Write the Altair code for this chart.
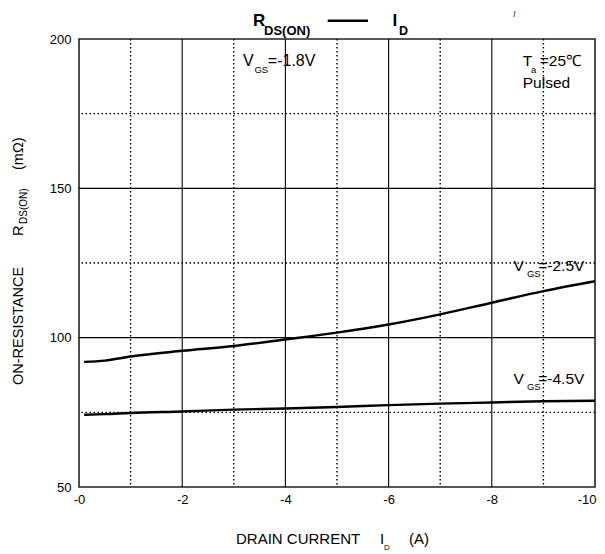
import altair as alt
import pandas as pd

# ---- data ----
current = [-0.1, -0.5, -1, -2, -3, -4, -5, -6, -7, -8, -9, -10]
r_vgs25 = [91.9, 92.3, 93.7, 95.6, 97.2, 99.4, 101.7, 104.4, 107.8, 111.7, 115.6, 118.9]
r_vgs45 = [74.2, 74.4, 74.8, 75.3, 75.9, 76.3, 76.8, 77.4, 77.9, 78.3, 78.7, 78.9]

x_ticks = [0, -2, -4, -6, -8, -10]
x_major = [-2, -4, -6, -8]
x_minor = [-1, -3, -5, -7, -9]
y_ticks = [50, 100, 150, 200]
y_major = [100, 150]
y_minor = [75, 125, 175]

# annotations placed in data coordinates
ann_text = ["V", "=-1.8V", "V", "=-2.5V", "V", "=-4.5V", "T", "=25\u2103", "Pulsed"]
ann_x = [-3.18, -3.66, -8.42, -8.90, -8.42, -8.90, -8.60, -8.93, -8.60]
ann_y = [190.9, 190.9, 122.3, 122.3, 84.4, 84.4, 190.8, 190.8, 183.7]
ann_size = [16, 16, 15.5, 15.5, 15.5, 15.5, 15.5, 15.5, 15.5]
sub_text = ["GS", "GS", "GS", "a"]
sub_x = [-3.40, -8.68, -8.68, -8.76]
sub_y = [188.7, 120.3, 82.4, 188.6]

FONT = "Liberation Sans, Arial, sans-serif"
W, H = 516, 448

xs = alt.Scale(domain=[0, -10], nice=False, zero=False)
ys = alt.Scale(domain=[50, 200], nice=False, zero=False)

curves = pd.DataFrame({
    "I": current + current,
    "R": r_vgs25 + r_vgs45,
    "VGS": ["-2.5V"] * len(current) + ["-4.5V"] * len(current),
})

lines = alt.Chart(curves).mark_line(
    color="black", strokeWidth=2.4, interpolate="monotone"
).encode(
    x=alt.X("I:Q", scale=xs, axis=alt.Axis(
        values=x_ticks, labelExpr="'-' + abs(datum.value)", title=None,
        grid=False, ticks=False, domain=False, labelFont=FONT,
        labelFontSize=13, labelColor="black", labelPadding=6,
        labelFlush=False, labelOverlap=False,
        labelAlign={"condition": {"test": "datum.value == -10", "value": "right"},
                    "value": "center"},
        labelOffset={"condition": {"test": "datum.value == -10", "value": 1},
                     "value": 0})),
    y=alt.Y("R:Q", scale=ys, axis=alt.Axis(
        values=y_ticks, title=None, grid=False, ticks=False, domain=False,
        labelFont=FONT, labelFontSize=13, labelColor="black",
        labelPadding=8, labelFlush=False, labelOverlap=False)),
    detail="VGS:N",
)


def vrules(vals, dotted):
    kw = dict(color="black", strokeWidth=1.1)
    if dotted:
        kw["strokeDash"] = [1.5, 2.5]
        kw["strokeWidth"] = 1.4
    return alt.Chart(pd.DataFrame({"I": vals})).mark_rule(**kw).encode(
        x=alt.X("I:Q", scale=xs))


def hrules(vals, dotted):
    kw = dict(color="black", strokeWidth=1.1)
    if dotted:
        kw["strokeDash"] = [1.5, 2.5]
        kw["strokeWidth"] = 1.4
    return alt.Chart(pd.DataFrame({"R": vals})).mark_rule(**kw).encode(
        y=alt.Y("R:Q", scale=ys))


ann = alt.Chart(pd.DataFrame({"I": ann_x, "R": ann_y, "t": ann_text, "s": ann_size})).mark_text(
    align="left", baseline="alphabetic", font=FONT, color="black"
).encode(x=alt.X("I:Q", scale=xs), y=alt.Y("R:Q", scale=ys), text="t:N",
         size=alt.Size("s:Q", scale=None, legend=None))

sub = alt.Chart(pd.DataFrame({"I": sub_x, "R": sub_y, "t": sub_text})).mark_text(
    align="left", baseline="alphabetic", font=FONT, fontSize=9.5, color="black"
).encode(x=alt.X("I:Q", scale=xs), y=alt.Y("R:Q", scale=ys), text="t:N")


def ptext(txt, px, py, size, bold=False, angle=0, italic=False, color="black"):
    kw = dict(align="left", baseline="alphabetic", font=FONT, fontSize=size,
              color=color, text=txt)
    if bold:
        kw["fontWeight"] = "bold"
    if italic:
        kw["fontStyle"] = "italic"
    if angle:
        kw["angle"] = angle
    return alt.Chart(pd.DataFrame({"k": [0]})).mark_text(**kw).encode(
        x=alt.value(px), y=alt.value(py))


texts = [
    # chart title  R_DS(ON) — I_D
    ptext("R", 174, -13, 17, bold=True),
    ptext("DS(ON)", 185, -4, 13, bold=True),
    ptext("I", 313.5, -13, 17, bold=True),
    ptext("D", 320, -4, 12.5, bold=True),
    ptext("I", 434, -22, 9, italic=True, color="#333"),
    # x axis title
    ptext("DRAIN CURRENT", 157, 504.5, 15),
    ptext("I", 301, 504.5, 15),
    ptext("D", 305, 511, 8),
    ptext("(A)", 330, 504.5, 15),
    # y axis title (rotated)
    ptext("ON-RESISTANCE", -56, 346, 14.5, angle=270),
    ptext("R", -56, 197, 14.5, angle=270),
    ptext("DS(ON)", -52, 185, 10, angle=270),
    ptext("(m\u03a9)", -56, 131, 14.5, angle=270),
]

dash = alt.Chart(pd.DataFrame({"k": [0]})).mark_rule(
    color="black", strokeWidth=2.5
).encode(x=alt.value(248.7), x2=alt.value(289), y=alt.value(-18.3))

chart = alt.layer(
    vrules(x_minor, True), vrules(x_major, False),
    hrules(y_minor, True), hrules(y_major, False),
    lines, ann, sub, dash, *texts,
).properties(
    width=W, height=H,
    autosize=alt.AutoSizeParams(type="none"),
    padding={"left": 71, "top": 31, "right": 2, "bottom": 64},
).configure_view(stroke="#222", strokeWidth=1.6)

chart.save("out.html", embed_options={"renderer": "svg", "actions": False})
